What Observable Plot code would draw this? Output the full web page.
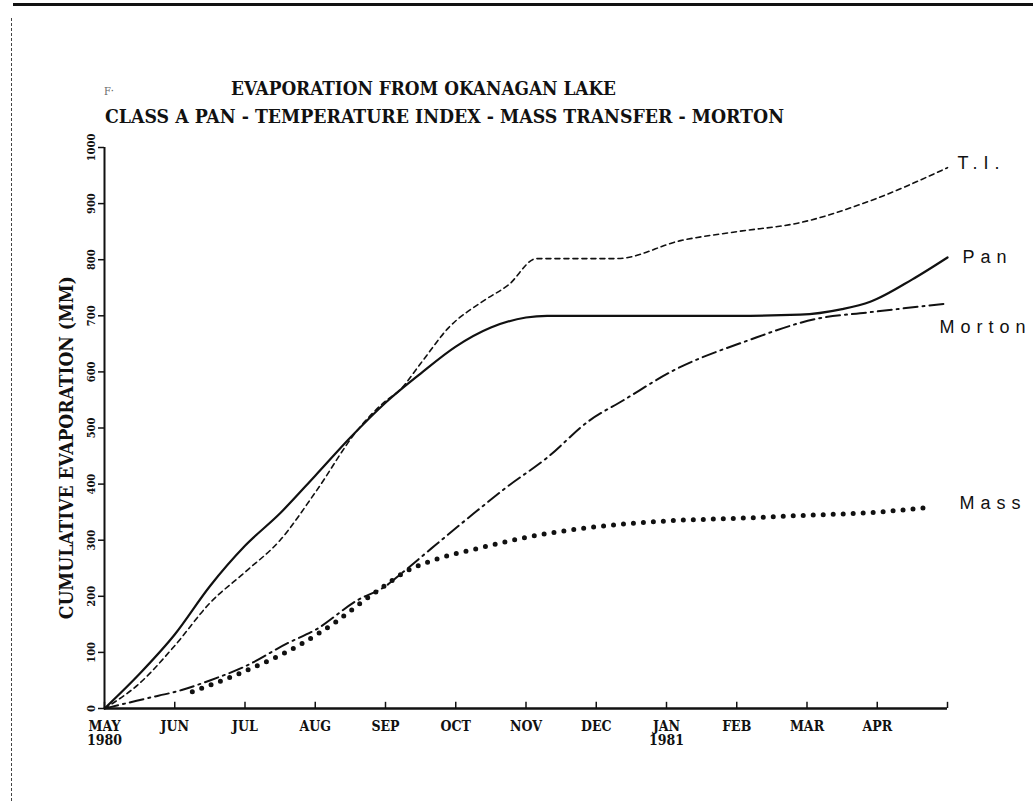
<!DOCTYPE html>
<html>
<head>
<meta charset="utf-8">
<script src="https://cdn.jsdelivr.net/npm/d3@7"></script>
<script src="https://cdn.jsdelivr.net/npm/@observablehq/plot@0.6"></script>
<style>
  html, body { margin: 0; padding: 0; background: #fff; }
  body { width: 1033px; height: 801px; overflow: hidden; position: relative;
         font-family: "DejaVu Serif Condensed", "DejaVu Serif", serif; color: #111; }
  #topline { position: absolute; left: 13px; right: 0; top: 3px; height: 3px; background: #111; }
  #leftline { position: absolute; left: 11px; top: 18px; bottom: 0; border-left: 1.5px dashed #444; }
  #header { position: relative; height: 130px; }
  .t { position: absolute; white-space: nowrap; font-weight: bold; transform-origin: 0 50%;
       font-stretch: condensed; line-height: 20px; }
  #mark { left: 104px; top: 82px; font-size: 11px; color: #666; font-weight: normal; }
  #title { left: 231px; top: 78px; font-size: 19px; }
  #subtitle { left: 105px; top: 106px; font-size: 19px; }
</style>
</head>
<body>
<div id="topline"></div>
<div id="leftline"></div>
<div id="header">
  <div class="t" id="mark">F·</div>
  <div class="t" id="title">EVAPORATION FROM OKANAGAN LAKE</div>
  <div class="t" id="subtitle">CLASS A PAN - TEMPERATURE INDEX - MASS TRANSFER - MORTON</div>
</div>
<div id="chart"></div>
<script>
// ---- data (month index: 0 = 1 May 1980, 12 = 1 May 1981) ----
const months = [0, 1, 2, 3, 4, 5, 6, 7, 8, 9, 10, 11, 12];
const monthLabels = ["MAY\n1980", "JUN", "JUL", "AUG", "SEP", "OCT", "NOV", "DEC", "JAN\n1981", "FEB", "MAR", "APR", ""];
const yTicks = [0, 100, 200, 300, 400, 500, 600, 700, 800, 900, 1000];
const yTitle = "CUMULATIVE EVAPORATION (MM)";

const panMonth = [0, 0.5, 1, 1.5, 2, 2.5, 3, 3.5, 4, 4.5, 5, 5.5, 6, 6.3, 7, 8, 9, 9.9, 10.5, 10.9, 11.5, 12];
const panValue = [0, 62, 132, 218, 290, 348, 415, 483, 545, 597, 645, 679, 697, 700, 700, 700, 700, 702, 712, 725, 765, 804];

const tiMonth = [0, 0.5, 1, 1.5, 2, 2.5, 3, 3.6, 4, 4.2, 4.5, 4.9, 5.4, 5.75, 6.15, 7.3, 8.2, 9, 9.9, 10.9, 12];
const tiValue = [0, 45, 112, 188, 243, 300, 385, 496, 548, 567, 615, 679, 727, 755, 802, 802, 834, 850, 866, 905, 964];

const mortonMonth = [0, 0.6, 1.1, 1.5, 2, 2.6, 3, 3.6, 4, 4.22, 4.65, 5.25, 5.72, 6.3, 6.9, 7.38, 8.09, 9.16, 10.15, 10.87, 12];
const mortonValue = [0, 18, 33, 50, 75, 116, 140, 193, 218, 240, 285, 347, 394, 447, 513, 549, 602, 656, 695, 706, 722];

const massMonth = [1.25, 1.95, 2.8, 3.3, 3.7, 4, 4.3, 4.7, 5.3, 6, 6.8, 7.5, 8.1, 9, 9.9, 11, 11.7];
const massValue = [30, 64, 115, 155, 193, 220, 245, 265, 285, 305, 321, 330, 335, 339, 344, 350, 358];

const seriesNames = ["T.I.", "Pan", "Morton", "Mass"];

const rows = (m, v) => m.map((x, i) => ({month: x, value: v[i]}));
const pan = rows(panMonth, panValue);
const ti = rows(tiMonth, tiValue);
const morton = rows(mortonMonth, mortonValue);
const mass = rows(massMonth, massValue);
const last = (a, name) => ({name, ...a[a.length - 1]});

const serif = '"DejaVu Serif Condensed", "DejaVu Serif", serif';
const sans = '"Liberation Sans", Arial, sans-serif';
const labelStyle = {x: "month", y: "value", text: "name", textAnchor: "start", fontSize: 18, fontFamily: sans};

const chart = Plot.plot({
  width: 1033,
  height: 671,
  marginTop: 17,
  marginBottom: 93,
  marginLeft: 104,
  marginRight: 86,
  x: {domain: [0, 12], axis: null, label: null},
  y: {domain: [0, 1000], axis: null, label: null},
  style: {background: "white", color: "#111", fontFamily: serif, overflow: "visible"},
  marks: [
    Plot.axisY({ticks: yTicks, tickSize: 6, tickFormat: () => "", strokeWidth: 1.5, label: null}),
    Plot.text(yTicks, {x: 0, y: d => d, text: d => String(d), rotate: -90, dx: -13,
      fontSize: 11, fontWeight: "bold", fontFamily: serif}),
    Plot.text([{y: 465, t: yTitle}], {x: 0, y: "y", text: "t", rotate: -90, dx: -38,
      fontSize: 19, fontWeight: "bold", fontFamily: serif}),
    Plot.ruleX(months, {x: d => d, y1: 0, y2: 11, stroke: "#111", strokeWidth: 1.5}),
    Plot.text(months, {x: d => d, y: 0, text: i => monthLabels[i], dy: 13, lineAnchor: "top",
      lineHeight: 1.0, fontSize: 14, fontWeight: "bold", fontFamily: serif}),
    Plot.ruleX([0], {stroke: "#111", strokeWidth: 2}),
    Plot.ruleY([0], {stroke: "#111", strokeWidth: 2.5}),
    Plot.line(ti, {x: "month", y: "value", curve: "monotone-x", stroke: "#111",
      strokeWidth: 1.6, strokeDasharray: "5,4"}),
    Plot.line(pan, {x: "month", y: "value", curve: "monotone-x", stroke: "#111",
      strokeWidth: 2.2}),
    Plot.line(morton, {x: "month", y: "value", curve: "monotone-x", stroke: "#111",
      strokeWidth: 2, strokeDasharray: "14,5,2,5"}),
    Plot.line(mass, {x: "month", y: "value", curve: "monotone-x", stroke: "#111",
      strokeWidth: 5, strokeDasharray: "0,10", strokeLinecap: "round"}),
    Plot.text([last(ti, seriesNames[0])], {...labelStyle, dx: 10, dy: -4}),
    Plot.text([last(pan, seriesNames[1])], {...labelStyle, dx: 15, dy: 0}),
    Plot.text([last(morton, seriesNames[2])], {...labelStyle, dx: -8, dy: 24}),
    Plot.text([last(mass, seriesNames[3])], {...labelStyle, dx: 33, dy: -4})
  ]
});
document.getElementById("chart").appendChild(chart);
d3.select(chart).selectAll("text")
  .filter(function() { return seriesNames.includes(this.textContent); })
  .style("letter-spacing", "6px");

// fit header text widths
function fit(id, w) {
  const el = document.getElementById(id);
  const r = el.getBoundingClientRect().width;
  el.style.transform = `scaleX(${w / r})`;
}
fit("title", 385);
fit("subtitle", 679);
</script>
</body>
</html>
